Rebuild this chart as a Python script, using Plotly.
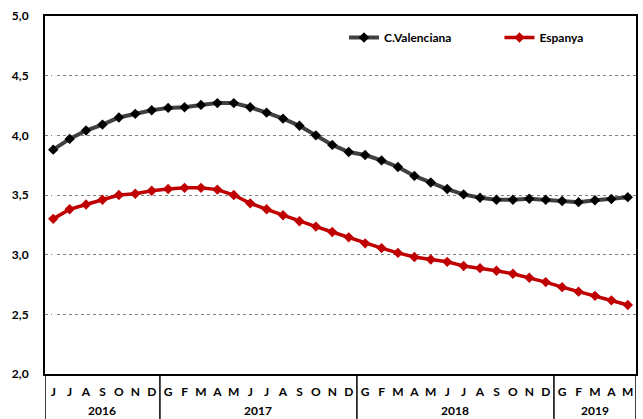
import plotly.graph_objects as go

meses = ["J", "J", "A", "S", "O", "N", "D",
         "G", "F", "M", "A", "M", "J", "J", "A", "S", "O", "N", "D",
         "G", "F", "M", "A", "M", "J", "J", "A", "S", "O", "N", "D",
         "G", "F", "M", "A", "M"]
anys = ["2016", "2017", "2018", "2019"]
mesos_per_any = [7, 12, 12, 5]

c_valenciana = [3.88, 3.97, 4.04, 4.09, 4.15, 4.18, 4.21,
                4.23, 4.235, 4.255, 4.27, 4.27, 4.235, 4.19, 4.14, 4.08, 4.00, 3.92, 3.86,
                3.835, 3.79, 3.735, 3.66, 3.605, 3.55, 3.505, 3.477, 3.46, 3.46, 3.469, 3.46,
                3.45, 3.44, 3.456, 3.467, 3.482]
espanya = [3.30, 3.38, 3.42, 3.46, 3.50, 3.51, 3.535,
           3.55, 3.56, 3.56, 3.545, 3.50, 3.43, 3.38, 3.33, 3.28, 3.235, 3.19, 3.145,
           3.095, 3.055, 3.015, 2.98, 2.96, 2.94, 2.905, 2.887, 2.865, 2.84, 2.806, 2.77,
           2.728, 2.69, 2.655, 2.617, 2.578]

x = list(range(len(meses)))
fuente = "Lato"

fig = go.Figure()
fig.add_trace(go.Scatter(
    x=x, y=c_valenciana, name="C.Valenciana", mode="lines+markers",
    line=dict(color="#404040", width=4),
    marker=dict(symbol="diamond", size=8, color="black"),
    legend="legend",
))
fig.add_trace(go.Scatter(
    x=x, y=espanya, name="Espanya", mode="lines+markers",
    line=dict(color="#C00000", width=3.5),
    marker=dict(symbol="diamond", size=8, color="#C00000"),
    legend="legend2",
))

# separadors d'any i etiquetes d'any sota l'eix
baix = -45 / 358
limits = [-0.5]
for n in mesos_per_any:
    limits.append(limits[-1] + n)
for b in limits:
    fig.add_shape(type="line", xref="x", yref="paper", x0=b, x1=b, y0=0, y1=baix,
                  line=dict(color="black", width=1.5))
for i, a in enumerate(anys):
    fig.add_annotation(x=(limits[i] + limits[i + 1]) / 2, y=-36 / 358, xref="x", yref="paper",
                       text=a, showarrow=False, yanchor="middle",
                       font=dict(family=fuente, size=12, color="black", weight="bold"))

fig.update_xaxes(
    range=[-0.5, len(meses) - 0.5], tickvals=x, ticktext=meses, tickangle=0,
    showgrid=False, showline=True, linecolor="black", linewidth=1.5, mirror=True,
    ticks="", ticklabelstandoff=6,
    tickfont=dict(family=fuente, size=12, color="black", weight="bold"),
)
fig.update_yaxes(
    range=[2, 5], dtick=0.5, tickformat=".1f",
    showgrid=True, gridcolor="#808080", griddash="dot", gridwidth=1,
    showline=True, linecolor="black", linewidth=2, mirror=True,
    zeroline=False, ticks="", ticklabelstandoff=12,
    tickfont=dict(family=fuente, size=12, color="black", weight="bold"),
)
llegenda = dict(orientation="h", y=0.94, xanchor="left", yanchor="middle",
                itemwidth=30, bgcolor="rgba(0,0,0,0)",
                font=dict(family=fuente, size=12, color="black", weight="bold"))
fig.update_layout(
    width=643, height=419,
    margin=dict(l=45, r=5, t=16, b=45),
    plot_bgcolor="white", paper_bgcolor="white",
    separators=",.",
    showlegend=True,
    legend=dict(llegenda, x=(345 - 45) / 593),
    legend2=dict(llegenda, x=(501 - 45) / 593),
)

fig.write_html("out.html", config={"displayModeBar": False},
               post_script="document.body.style.margin='0';")
